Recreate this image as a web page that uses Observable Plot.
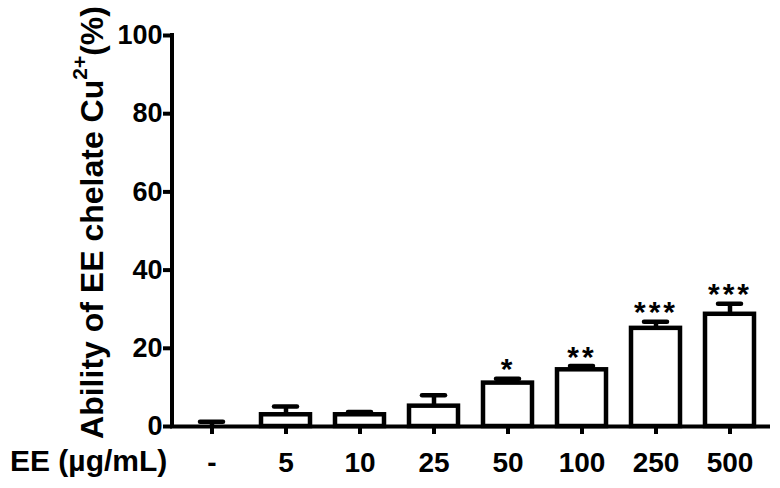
<!DOCTYPE html>
<html>
<head>
<meta charset="utf-8">
<script src="https://cdn.jsdelivr.net/npm/d3@7"></script>
<script src="https://cdn.jsdelivr.net/npm/@observablehq/plot@0.6"></script>
<style>
  html, body { margin: 0; padding: 0; background: #fff; }
  #chart svg { display: block; }
</style>
</head>
<body>
<div id="chart"></div>
<script>
const categories = ["-", "5", "10", "25", "50", "100", "250", "500"];
const values = [0, 3.0, 3.0, 5.2, 11.1, 14.5, 25.1, 28.7];
const errors = [1.2, 2.1, 0.7, 2.8, 1.1, 1.0, 1.7, 2.7];
const stars = ["", "", "", "", "*", "**", "***", "***"];
const yTicks = [0, 20, 40, 60, 80, 100];

const data = categories.map((c, i) => ({cat: c, value: values[i], err: errors[i], star: stars[i]}));
const font = "'Liberation Sans', Arial, Helvetica, sans-serif";
const W = 780, H = 488, ML = 172, MR = 12, MT = 35, MB = 62;

const chart = Plot.plot({
  width: W,
  height: H,
  marginLeft: ML,
  marginRight: MR,
  marginTop: MT,
  marginBottom: MB,
  style: {fontFamily: font, fontWeight: "bold", color: "black", background: "white"},
  x: {domain: categories, paddingInner: 0.34, paddingOuter: 0.17},
  y: {domain: [0, 100]},
  marks: [
    Plot.rectY(data, {x: "cat", y: "value", fill: "white", stroke: "black", strokeWidth: 4.5}),
    Plot.ruleX(data, {x: "cat", y1: "value", y2: d => d.value + d.err, stroke: "black", strokeWidth: 4.5}),
    Plot.tickY(data, {x: "cat", y: d => d.value + d.err, stroke: "black", strokeWidth: 4.5, insetLeft: 13, insetRight: 13, strokeLinecap: "round"}),
    Plot.text(data.filter(d => d.star), {x: "cat", y: d => d.value + d.err, text: "star", dy: -9, fontSize: 30, lineAnchor: "middle", fill: "black", style: "letter-spacing: 3px"}),
    Plot.ruleY([0], {stroke: "black", strokeWidth: 4, strokeLinecap: "square"}),
    Plot.axisY({ticks: yTicks, tickSize: 9, tickPadding: 1, fontSize: 27, strokeWidth: 4, label: null}),
    Plot.axisX({tickSize: 8, tickPadding: 18, fontSize: 28, strokeWidth: 4, label: null})
  ]
});

document.getElementById("chart").appendChild(chart);

const svg = d3.select(chart);
const sy = chart.scale("y");

// y-axis line along the frame's left edge, positioned with the plot's y scale
svg.append("line")
  .attr("x1", ML).attr("x2", ML)
  .attr("y1", sy.apply(100)).attr("y2", sy.apply(0))
  .attr("stroke", "black").attr("stroke-width", 4).attr("stroke-linecap", "square");

// star letter-spacing (text centered despite spacing)
svg.selectAll("text").filter(function() { return /^\*+$/.test(this.textContent); })
  .style("letter-spacing", "3px");

// y-axis title with superscript
const yl = svg.append("text")
  .attr("transform", `translate(103,${(sy.apply(100) + sy.apply(0)) / 2 - 8}) rotate(-90)`)
  .attr("text-anchor", "middle")
  .style("font-family", font)
  .style("font-weight", "bold")
  .style("font-size", "32px")
  .attr("fill", "black");
yl.append("tspan").text("Ability of EE chelate Cu");
yl.append("tspan").attr("dy", -16).style("font-size", "21px").text("2+");
yl.append("tspan").attr("dy", 16).text("(%)");

// x-axis title at left of tick labels
svg.append("text")
  .attr("x", 10)
  .attr("y", 471)
  .attr("text-anchor", "start")
  .style("font-family", font)
  .style("font-weight", "bold")
  .style("font-size", "30px")
  .attr("fill", "black")
  .text("EE (µg/mL)");
</script>
</body>
</html>
